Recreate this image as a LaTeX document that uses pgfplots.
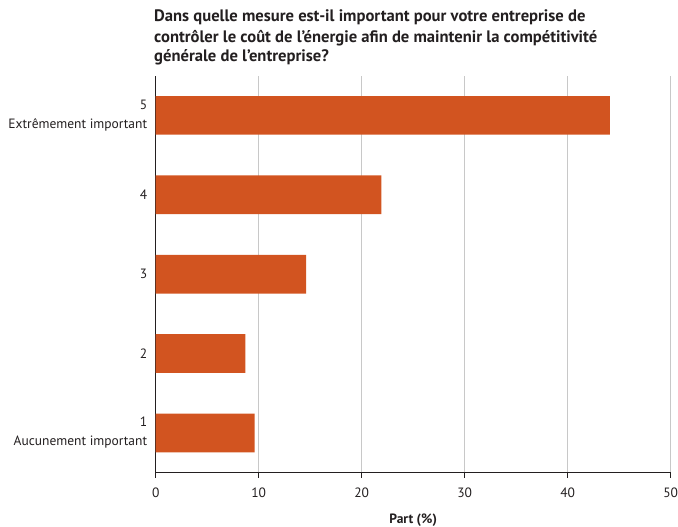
\documentclass[border=0pt]{standalone}
\usepackage{pgfplots}
\pgfplotsset{compat=1.18}
\usepackage{fontspec}
\setmainfont{PT Sans}
\definecolor{barcol}{RGB}{210,84,32}
\definecolor{txt}{RGB}{35,31,32}
\definecolor{gridc}{RGB}{200,200,200}

\begin{document}
\begin{tikzpicture}[x=1pt,y=1pt]
\useasboundingbox (-155.7,-54.3) rectangle (522.3,472.7);
% title, one node per line
\node[anchor=base west, inner sep=0, text=txt, font=\bfseries\fontsize{16.6}{20}\selectfont] at (-1.7,450.7) {Dans quelle mesure est-il important pour votre entreprise de};
\node[anchor=base west, inner sep=0, text=txt, font=\bfseries\fontsize{16.6}{20}\selectfont] at (-1.7,430.4) {contrôler le coût de l'énergie afin de maintenir la compétitivité};
\node[anchor=base west, inner sep=0, text=txt, font=\bfseries\fontsize{16.6}{20}\selectfont] at (-1.7,410.7) {générale de l'entreprise?};
\begin{axis}[
  at={(0,0)}, anchor=south west,
  width=515pt, height=397pt, scale only axis,
  xbar, bar width=38.7pt,
  xmin=0, xmax=50, ymin=0.5, ymax=5.5,
  axis x line*=bottom, axis y line*=left,
  axis line style={draw=txt, line width=1.3pt},
  xtick={0,10,...,50},
  ytick={1,...,5},
  yticklabels={{1\\Aucunement important},2,3,4,{5\\Extrêmement important}},
  /pgf/number format/assume math mode=true,
  ticklabel style={font=\fontsize{13.5}{19}\selectfont, text=txt},
  yticklabel style={align=right},
  xticklabel style={yshift=-7pt},
  ytick style={draw=none},
  xtick style={draw=txt, line width=1pt},
  tick align=outside, major tick length=5pt,
  xmajorgrids, grid style={draw=gridc, line width=1pt},
  xlabel={\bfseries Part (\%)},
  xlabel style={at={(axis description cs:0.5,0)}, anchor=base, yshift=-51pt, font=\fontsize{13.5}{17}\selectfont, text=txt},
]
\addplot[fill=barcol, draw=none] coordinates {(9.6,1) (8.7,2) (14.6,3) (21.9,4) (44.1,5)};
\end{axis}
\end{tikzpicture}
\end{document}
